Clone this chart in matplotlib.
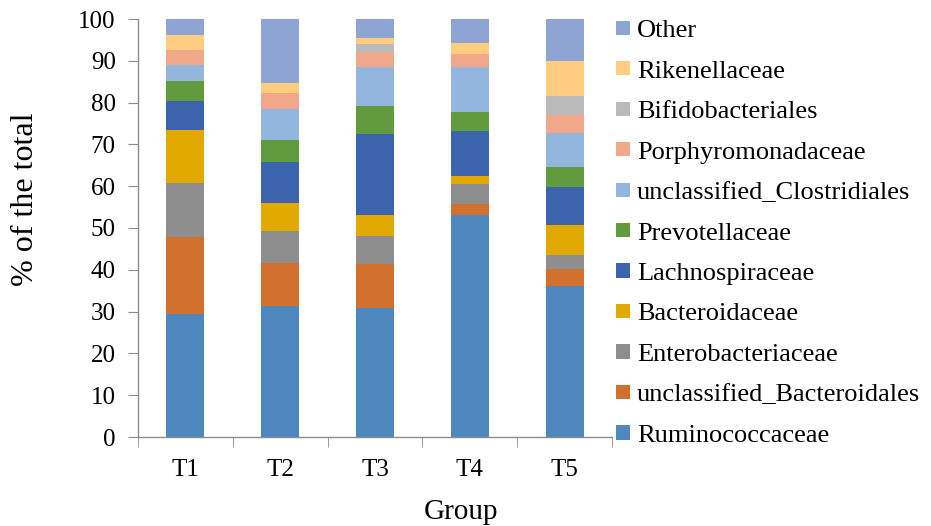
import numpy as np
import matplotlib
matplotlib.use("Agg")
import matplotlib.pyplot as plt
from matplotlib.patches import Patch

groups = ["T1", "T2", "T3", "T4", "T5"]

taxa = [
    "Ruminococcaceae",
    "unclassified_Bacteroidales",
    "Enterobacteriaceae",
    "Bacteroidaceae",
    "Lachnospiraceae",
    "Prevotellaceae",
    "unclassified_Clostridiales",
    "Porphyromonadaceae",
    "Bifidobacteriales",
    "Rikenellaceae",
    "Other",
]

ruminococcaceae = [29.4, 31.3, 30.8, 53.0, 36.1]
uncl_bacteroidales = [18.4, 10.3, 10.6, 2.8, 4.1]
enterobacteriaceae = [13.0, 7.8, 6.8, 4.7, 3.3]
bacteroidaceae = [12.6, 6.7, 4.9, 2.0, 7.3]
lachnospiraceae = [6.9, 9.7, 19.4, 10.6, 9.1]
prevotellaceae = [4.9, 5.3, 6.7, 4.6, 4.7]
uncl_clostridiales = [3.9, 7.3, 9.2, 10.9, 8.1]
porphyromonadaceae = [3.6, 3.9, 3.7, 3.0, 4.4]
bifidobacteriales = [0.0, 0.0, 1.9, 0.0, 4.5]
rikenellaceae = [3.5, 2.5, 1.4, 2.6, 8.4]
other = [3.9, 15.2, 4.6, 6.0, 10.2]

values = [ruminococcaceae, uncl_bacteroidales, enterobacteriaceae, bacteroidaceae,
          lachnospiraceae, prevotellaceae, uncl_clostridiales, porphyromonadaceae,
          bifidobacteriales, rikenellaceae, other]

colors = ["#4E88BE", "#D2712E", "#8E8E8E", "#E2AA00", "#3B64AD", "#629B3E",
          "#93B6DE", "#F1A78A", "#BABABA", "#FFCC80", "#8EA5D4"]

plt.rcParams["font.family"] = ["Liberation Serif", "DejaVu Serif"]

W, H = 931, 526
fig = plt.figure(figsize=(W / 100, H / 100), dpi=100)
ax = fig.add_axes([138 / W, 1 - 437 / H, (612 - 138) / W, (437 - 19) / H])

x = np.arange(len(groups))
bottom = np.zeros(len(groups))
for vals, col in zip(values, colors):
    vals = np.array(vals)
    ax.bar(x, vals, 0.4, bottom=bottom, color=col, edgecolor="none")
    bottom += vals

ax.set_xlim(-0.5, 4.5)
ax.set_ylim(0, 100)
ax.set_yticks(range(0, 101, 10))
ax.set_xticks(x)
ax.set_xticklabels(groups)
ax.set_xticks(np.arange(-0.5, 5, 1), minor=True)

for s in ["top", "right"]:
    ax.spines[s].set_visible(False)
for s in ["left", "bottom"]:
    ax.spines[s].set_color("#8C8C8C")
    ax.spines[s].set_linewidth(1.0)

ax.tick_params(axis="y", direction="out", length=7, color="#8C8C8C",
               labelsize=18, pad=9)
ax.tick_params(axis="x", which="major", length=0, labelsize=18, pad=16)
ax.tick_params(axis="x", which="minor", direction="out", length=7,
               color="#8C8C8C")

fig.text(461 / W, 1 - 512 / H, "Group", fontsize=21, ha="center", va="center")
fig.text(26 / W, 1 - 199 / H, "% of the total", fontsize=23, rotation=90,
         ha="center", va="center")

handles = [Patch(facecolor=c, edgecolor="none") for c in colors][::-1]
fig.legend(handles, taxa[::-1], loc="upper left",
           bbox_to_anchor=(603 / W, 1 - 7 / H), frameon=False,
           fontsize=19, handlelength=0.53, handleheight=0.46,
           handletextpad=0.25, labelspacing=0.70, borderpad=0)

fig.savefig("out.png", dpi=100)
